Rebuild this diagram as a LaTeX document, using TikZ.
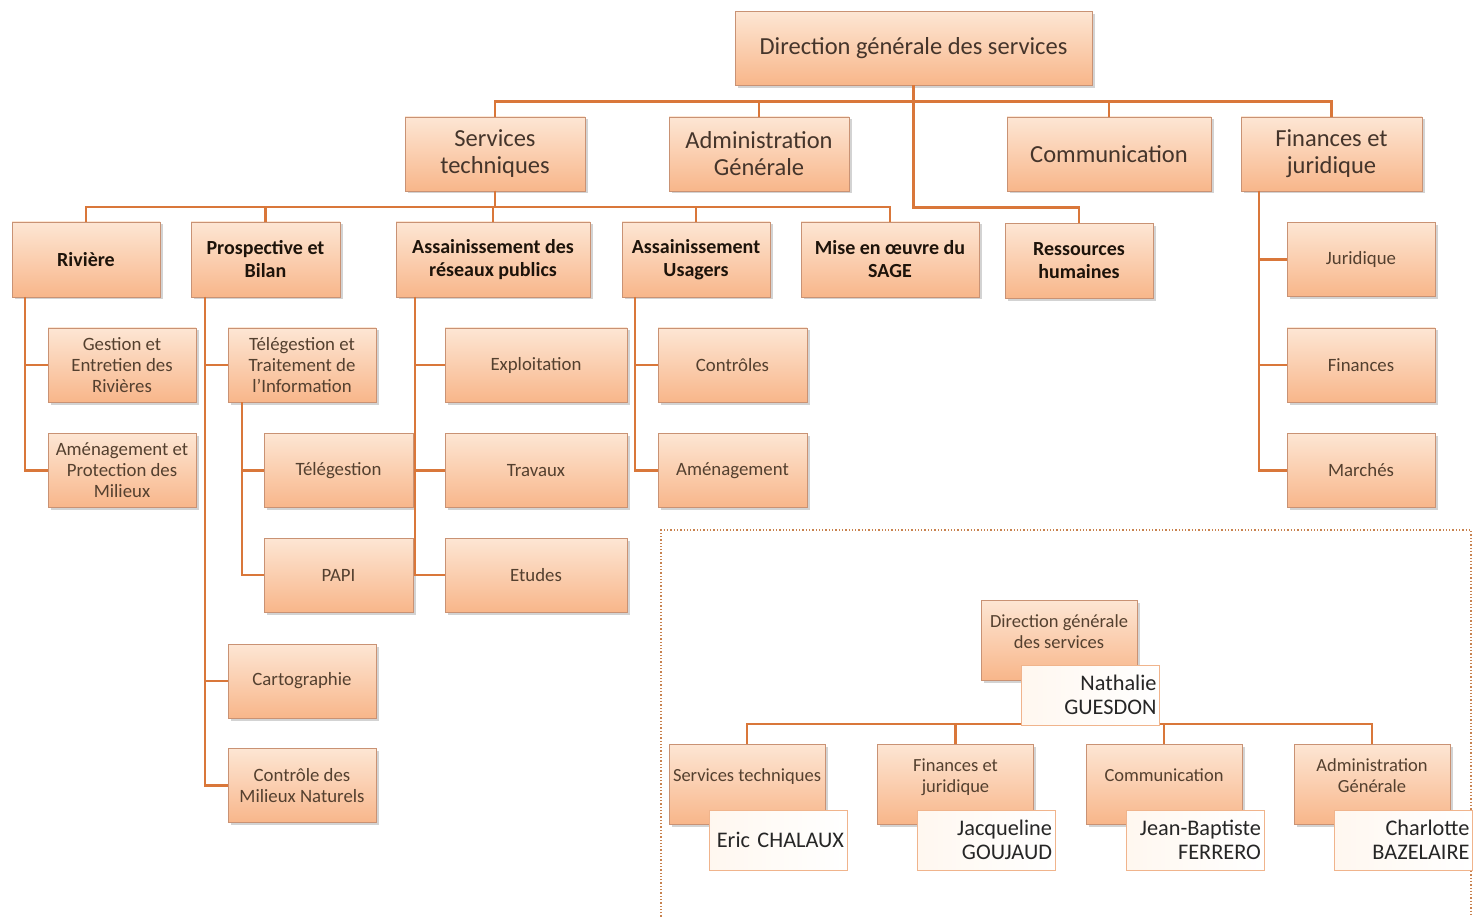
\documentclass[tikz,border=0pt]{standalone}
\usepackage{fontspec}
\setmainfont{Carlito}
\usetikzlibrary{shadows}
\definecolor{peachtop}{HTML}{FDE6D4}
\definecolor{peachbot}{HTML}{F8B68A}
\definecolor{boxline}{HTML}{C99274}
\definecolor{linkcol}{HTML}{D9773A}
\definecolor{boxtext}{HTML}{45352B}
\definecolor{subtext}{HTML}{54402F}
\definecolor{persline}{HTML}{F0B48C}
\definecolor{framecol}{HTML}{C8824F}
\begin{document}
\begin{tikzpicture}[x=1pt,y=-1pt,
  box/.style={draw=boxline,line width=.8pt,top color=peachtop,bottom color=peachbot,
    drop shadow={shadow xshift=2.5pt,shadow yshift=-2.5pt,opacity=.35},
    align=center,inner sep=1pt,outer sep=0pt,text=boxtext},
  head/.style={box,font=\fontsize{24.5}{27}\selectfont,minimum height=74pt},
  unit/.style={box,font=\bfseries\fontsize{20}{23}\selectfont,text=black!85!brown,minimum width=148pt,minimum height=75pt},
  sub/.style={box,font=\fontsize{18.8}{21}\selectfont,text=subtext,minimum width=148pt,minimum height=74pt},
  inunit/.style={box,font=\fontsize{18.5}{21}\selectfont,text=subtext,minimum width=156pt,minimum height=80pt,text depth=17pt},
  person/.style={draw=persline,line width=1pt,left color=orange!6,right color=white,
    font=\fontsize{22.3}{24}\selectfont,text=black!85,align=right,text width=132pt,
    minimum height=60pt,inner sep=3pt,outer sep=0pt},
  link/.style={draw=linkcol,line width=2.5pt}]
  \useasboundingbox (0,0) rectangle (1473,917);

  % direction and services
  \node[head,minimum width=357pt] (dgs) at (913.5,48.5) {Direction générale des services};
  \node[head,minimum width=180pt] (st) at (495,154) {Services\\techniques};
  \node[head,minimum width=180pt] (ag) at (759,154) {Administration\\Générale};
  \node[head,minimum width=204pt] (com) at (1109,154) {Communication};
  \node[head,minimum width=181pt] (fj) at (1331.5,154) {Finances et\\juridique};

  \node[unit] (riv) at (86,259.5) {Rivière};
  \node[unit,minimum width=149pt] (pro) at (265.5,259.5) {Prospective et\\Bilan};
  \node[unit,minimum width=194pt] (arp) at (493,259.5) {Assainissement des\\réseaux publics};
  \node[unit] (au) at (696,259.5) {Assainissement\\Usagers};
  \node[unit,minimum width=178pt] (sage) at (890,259.5) {Mise en œuvre du\\SAGE};
  \node[unit] (rh) at (1079,261) {Ressources\\humaines};

  \node[sub] (gest) at (122,365) {Gestion et\\Entretien des\\Rivières};
  \node[sub] (amen) at (122,470.5) {Aménagement et\\Protection des\\Milieux};
  \node[sub] (tti) at (302,365) {Télégestion et\\Traitement de\\l'Information};
  \node[sub,minimum width=149pt] (tel) at (338.5,470.5) {Télégestion};
  \node[sub,minimum width=149pt] (papi) at (338.5,575) {PAPI};
  \node[sub] (carto) at (302,681) {Cartographie};
  \node[sub] (cmn) at (302,785.5) {Contrôle des\\Milieux Naturels};
  \node[sub,minimum width=182pt] (expl) at (536,365) {Exploitation};
  \node[sub,minimum width=182pt] (trav) at (536,470.5) {Travaux};
  \node[sub,minimum width=182pt] (etud) at (536,575) {Etudes};
  \node[sub,minimum width=149pt] (ctrl) at (732.5,365) {Contrôles};
  \node[sub,minimum width=149pt] (amg) at (732.5,470.5) {Aménagement};
  \node[sub] (jur) at (1361,259.5) {Juridique};
  \node[sub] (fin) at (1361,365) {Finances};
  \node[sub] (mar) at (1361,470.5) {Marchés};

  \foreach \c in {st,ag,com,fj}
    \draw[link] (dgs.south) -- ++(0,16) -| (\c.north);
  \draw[link] (dgs.south) |- ([yshift=16pt]rh.north) -- (rh.north);
  \foreach \c in {riv,pro,arp,au,sage}
    \draw[link] (st.south) -- ++(0,16) -| (\c.north);

  \foreach \c in {gest,amen}
    \draw[link] ([xshift=13pt]riv.south west) |- (\c.west);
  \foreach \c in {tti,carto,cmn}
    \draw[link] ([xshift=14pt]pro.south west) |- (\c.west);
  \foreach \c in {tel,papi}
    \draw[link] ([xshift=14pt]tti.south west) |- (\c.west);
  \foreach \c in {expl,trav,etud}
    \draw[link] ([xshift=19pt]arp.south west) |- (\c.west);
  \foreach \c in {ctrl,amg}
    \draw[link] ([xshift=13pt]au.south west) |- (\c.west);
  \foreach \c in {jur,fin,mar}
    \draw[link] ([xshift=18pt]fj.south west) |- (\c.west);

  % inset with the names
  \draw[framecol,dotted,line width=1.3pt] (661,920) -- (661,530) -- (1471,530) -- (1471,920);

  \node[inunit] (dgsi) at (1059,640) {Direction générale\\des services};
  \node[inunit] (sti) at (747,784) {Services techniques};
  \node[inunit] (fji) at (955.5,784) {Finances et\\juridique};
  \node[inunit] (comi) at (1164,784) {Communication};
  \node[inunit] (agi) at (1372,784) {Administration\\Générale};

  \foreach \c in {sti,fji,comi,agi}
    \draw[link] (dgsi.south) -- ++(0,44) -| (\c.north);

  \node[person] (nat) at (1090.5,695) {Nathalie\\GUESDON};
  \node[person] (eric) at (778,840) {Eric CHALAUX};
  \node[person] (jac) at (986,840) {Jacqueline\\GOUJAUD};
  \node[person] (jb) at (1195,840) {Jean-Baptiste\\FERRERO};
  \node[person] (cha) at (1403.5,840) {Charlotte\\BAZELAIRE};
\end{tikzpicture}
\end{document}
